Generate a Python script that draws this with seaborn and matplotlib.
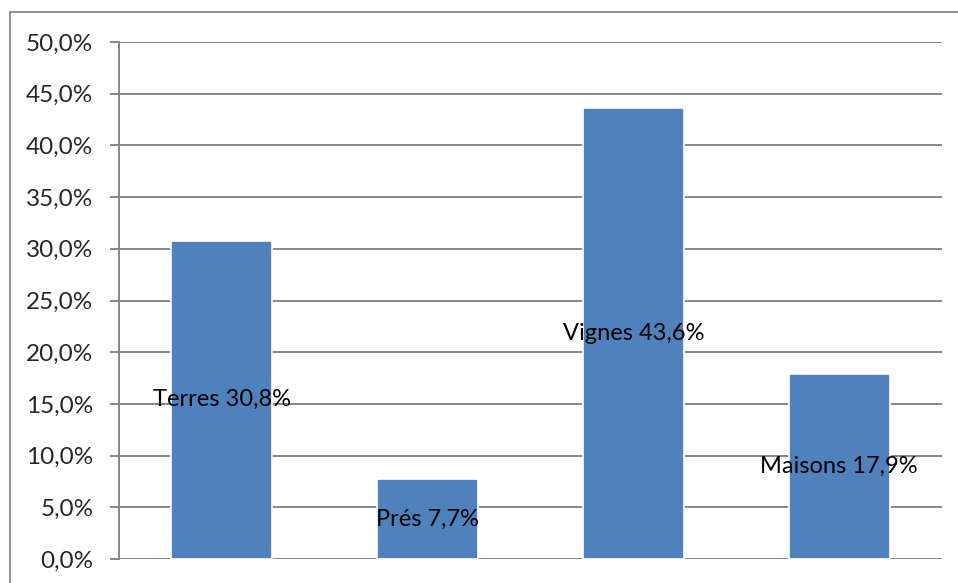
import matplotlib
matplotlib.use("Agg")
import matplotlib.pyplot as plt
import seaborn as sns
import pandas as pd
from matplotlib.patches import Rectangle

categories = ["Terres", "Prés", "Vignes", "Maisons"]
values = [30.8, 7.7, 43.6, 17.9]
yticks = [0, 5, 10, 15, 20, 25, 30, 35, 40, 45, 50]
ytick_labels = ["0,0%", "5,0%", "10,0%", "15,0%", "20,0%", "25,0%", "30,0%", "35,0%", "40,0%", "45,0%", "50,0%"]

df = pd.DataFrame({"cat": categories, "val": values})

sns.set_style("white")
plt.rcParams["font.family"] = ["Lato", "DejaVu Sans"]

fig = plt.figure(figsize=(9.58, 5.83), dpi=100)
ax = fig.add_axes([119/958, 1 - 559/583, (942-119)/958, (559-42)/583])

sns.barplot(data=df, x="cat", y="val", color="#4F81BD", width=0.49,
            edgecolor="white", linewidth=1.2, saturation=1, ax=ax, zorder=3)

ax.set_ylim(0, 50)
ax.set_xlim(-0.5, 3.5)
ax.set_yticks(yticks)
ax.set_yticklabels(ytick_labels, fontsize=17.5)
ax.set_xticks([])
ax.set_xlabel("")
ax.set_ylabel("")
ax.grid(axis="y", color="#868686", linewidth=1.4, zorder=0)
ax.tick_params(axis="y", length=6.5, width=1.4, color="#868686", pad=12, left=True)
for s in ["top", "right", "bottom"]:
    ax.spines[s].set_visible(False)
ax.spines["left"].set_color("#868686")
ax.spines["left"].set_linewidth(1.4)

for i, (c, v) in enumerate(zip(categories, values)):
    ax.text(i, v / 2, f"{c} {str(v).replace('.', ',')}%", ha="center", va="center",
            fontsize=17, color="black", zorder=5)

fig.patches.append(Rectangle((10/958, -0.05), 1.2, 1.05 - 12/583,
                             transform=fig.transFigure, fill=False,
                             edgecolor="#868686", linewidth=1.3))

fig.savefig("out.png", dpi=100)
